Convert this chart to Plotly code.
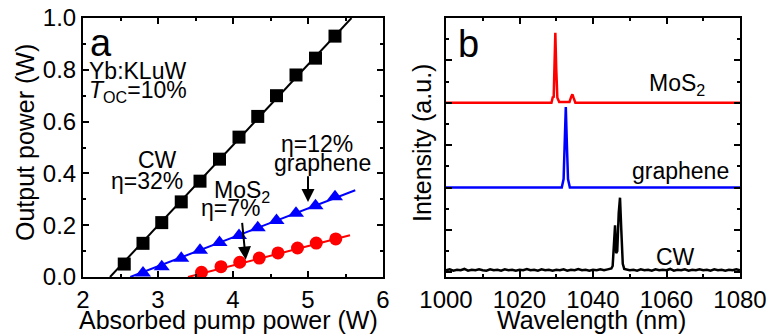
import plotly.graph_objects as go

# ---------------- Panel a data ----------------
cw_pump = [2.55, 2.80, 3.05, 3.31, 3.56, 3.82, 4.08, 4.33, 4.58, 4.84, 5.10, 5.36]
cw_out = [0.05, 0.13, 0.21, 0.29, 0.37, 0.455, 0.54, 0.62, 0.70, 0.78, 0.845, 0.93]
gr_pump = [2.80, 3.05, 3.31, 3.56, 3.82, 4.08, 4.33, 4.58, 4.84, 5.10, 5.36]
gr_out = [0.015, 0.04, 0.072, 0.103, 0.133, 0.16, 0.19, 0.218, 0.246, 0.275, 0.31]
mos_pump = [3.58, 3.84, 4.09, 4.35, 4.60, 4.86, 5.11, 5.37]
mos_out = [0.018, 0.04, 0.057, 0.073, 0.093, 0.112, 0.131, 0.147]

cw_fit_x = [2.36, 5.58]
cw_fit_y = [0.0, 1.0]
gr_fit_x = [2.63, 5.63]
gr_fit_y = [0.0, 0.335]
mos_fit_x = [3.40, 5.56]
mos_fit_y = [0.0, 0.161]

# ---------------- Panel b data ----------------
mos_wl = [1000, 1028.7, 1029.1, 1029.3, 1029.5, 1029.75, 1030.0, 1030.3, 1030.8,
          1033.6, 1034.1, 1034.4, 1034.7, 1035.2, 1080]
mos_int = [4.0, 4.0, 4.15, 4.12, 4.8, 5.65, 4.8, 4.12, 4.02,
           4.02, 4.15, 4.2, 4.12, 4.0, 4.0]

gr_wl = [1000, 1031.5, 1032.0, 1032.3, 1032.6, 1032.9, 1033.2, 1033.7, 1080]
gr_int = [2.0, 2.0, 2.2, 3.0, 3.9, 3.0, 2.2, 2.0, 2.0]

cw_wl = [1000, 1001, 1002, 1003, 1004, 1005, 1006, 1007, 1008, 1009, 1010, 1011, 1012,
         1013, 1014, 1015, 1016, 1017, 1018, 1019, 1020, 1021, 1022, 1023, 1024, 1025,
         1026, 1027, 1028, 1029, 1030, 1031, 1032, 1033, 1034, 1035, 1036, 1037, 1038,
         1039, 1040, 1041, 1042, 1043, 1044, 1045, 1045.35, 1045.7, 1046.0, 1046.3,
         1046.6, 1047.0, 1047.35, 1047.7, 1048.1, 1048.5, 1049, 1050, 1051, 1052, 1053,
         1054, 1055, 1056, 1057, 1058, 1059, 1060, 1061, 1062, 1063, 1064, 1065, 1066,
         1067, 1068, 1069, 1070, 1071, 1072, 1073, 1074, 1075, 1076, 1077, 1078, 1079, 1080]
cw_int = [0.05, 0.07, 0.04, 0.06, 0.05, 0.08, 0.04, 0.06, 0.05, 0.07, 0.05, 0.04, 0.07,
          0.05, 0.06, 0.04, 0.07, 0.05, 0.06, 0.04, 0.06, 0.05, 0.08, 0.05, 0.06, 0.04,
          0.07, 0.05, 0.06, 0.04, 0.06, 0.05, 0.07, 0.04, 0.06, 0.05, 0.08, 0.05, 0.06,
          0.04, 0.06, 0.05, 0.07, 0.05, 0.07, 0.09, 0.15, 0.8, 1.11, 0.45,
          0.5, 1.4, 1.76, 1.0, 0.2, 0.08, 0.07, 0.05, 0.06, 0.04, 0.07,
          0.05, 0.06, 0.04, 0.07, 0.05, 0.06, 0.05, 0.08, 0.04, 0.06, 0.05, 0.07, 0.04,
          0.06, 0.05, 0.07, 0.05, 0.06, 0.04, 0.07, 0.05, 0.06, 0.04, 0.06, 0.05, 0.07, 0.05]

FONT = "Liberation Sans, Arial, sans-serif"

fig = go.Figure()

# fit lines
fig.add_trace(go.Scatter(x=cw_fit_x, y=cw_fit_y, mode="lines",
                         line=dict(color="black", width=2), xaxis="x", yaxis="y"))
fig.add_trace(go.Scatter(x=gr_fit_x, y=gr_fit_y, mode="lines",
                         line=dict(color="#0000ff", width=2), xaxis="x", yaxis="y"))
fig.add_trace(go.Scatter(x=mos_fit_x, y=mos_fit_y, mode="lines",
                         line=dict(color="#ff0000", width=2), xaxis="x", yaxis="y"))
# markers
fig.add_trace(go.Scatter(x=cw_pump, y=cw_out, mode="markers",
                         marker=dict(symbol="square", size=13, color="black"),
                         xaxis="x", yaxis="y"))
fig.add_trace(go.Scatter(x=gr_pump, y=gr_out, mode="markers",
                         marker=dict(symbol="triangle-up", size=14, color="#0000ff"),
                         xaxis="x", yaxis="y"))
fig.add_trace(go.Scatter(x=mos_pump, y=mos_out, mode="markers",
                         marker=dict(symbol="circle", size=13, color="#ff0000"),
                         xaxis="x", yaxis="y"))

# spectra
fig.add_trace(go.Scatter(x=mos_wl, y=mos_int, mode="lines",
                         line=dict(color="#ff0000", width=2.5), xaxis="x2", yaxis="y2"))
fig.add_trace(go.Scatter(x=gr_wl, y=gr_int, mode="lines",
                         line=dict(color="#0000ff", width=2.5), xaxis="x2", yaxis="y2"))
fig.add_trace(go.Scatter(x=cw_wl, y=cw_int, mode="lines",
                         line=dict(color="black", width=2.5), xaxis="x2", yaxis="y2"))

W, H = 768, 335
ax_common = dict(showline=True, linewidth=2, linecolor="black", mirror="ticks",
                 ticks="inside", ticklen=6, tickwidth=2, tickcolor="black",
                 showgrid=False, zeroline=False, automargin=False,
                 tickfont=dict(family=FONT, size=24, color="black"))

left_dom = [83 / W, 383 / W]
right_dom = [446 / W, 740 / W]
ydom = [1 - 277 / H, 1 - 18 / H]

fig.update_layout(
    width=W, height=H,
    margin=dict(l=0, r=0, t=0, b=0, pad=0, autoexpand=False),
    paper_bgcolor="white", plot_bgcolor="white",
    showlegend=False,
    font=dict(family=FONT, color="black"),
    xaxis=dict(domain=left_dom, range=[2, 6], dtick=1, anchor="y",
               minor=dict(dtick=0.5, ticks="inside", ticklen=3, tickwidth=1.5,
                          tickcolor="black"),
               **ax_common),
    yaxis=dict(domain=ydom, range=[0, 1], dtick=0.2, tickformat=".1f", anchor="x",
               minor=dict(dtick=0.1, ticks="inside", ticklen=3, tickwidth=1.5,
                          tickcolor="black"),
               **ax_common),
    xaxis2=dict(domain=right_dom, range=[1000, 1080], dtick=20, anchor="y2",
                minor=dict(dtick=10, ticks="inside", ticklen=3, tickwidth=1.5,
                           tickcolor="black"),
                **ax_common),
    yaxis2=dict(domain=ydom, range=[-0.11, 6.0], dtick=1, anchor="x2",
                showticklabels=False,
                minor=dict(dtick=0.5, ticks="inside", ticklen=3, tickwidth=1.5,
                           tickcolor="black"),
                **ax_common),
)

def txt(x, y, s, size=23, xref="x", yref="y", xanchor="center", yanchor="middle", angle=0):
    fig.add_annotation(x=x, y=y, xref=xref, yref=yref, text=s, showarrow=False,
                       xanchor=xanchor, yanchor=yanchor, textangle=angle,
                       font=dict(family=FONT, size=size, color="black"))

# axis titles
txt(25 / W, 1 - 143 / H, "Output power (W)", size=25, xref="paper", yref="paper", angle=-90)
txt(228 / W, 1 - 320 / H, "Absorbed pump power (W)", size=25, xref="paper", yref="paper")
txt(422 / W, 1 - 143 / H, "Intensity (a.u.)", size=25, xref="paper", yref="paper", angle=-90)
txt(591 / W, 1 - 320 / H, "Wavelength (nm)", size=25, xref="paper", yref="paper")

# panel a texts
txt(2.06, 0.905, "a", size=38, xanchor="left")
txt(2.05, 0.795, "Yb:KLuW", size=23, xanchor="left")
txt(2.05, 0.715, "<i>T</i><sub>OC</sub>=10%", size=23, xanchor="left")
txt(2.99, 0.453, "CW", size=23)
txt(2.85, 0.372, "η=32%", size=23)
txt(5.12, 0.515, "η=12%", size=23)
txt(5.19, 0.441, "graphene", size=23)
txt(3.72, 0.33, "MoS<sub>2</sub>", size=23, xanchor="left")
txt(3.55, 0.267, "η=7%", size=23, xanchor="left")

# arrows
fig.add_annotation(x=5.0, y=0.29, ax=5.0, ay=0.395, xref="x", yref="y", axref="x", ayref="y",
                   text="", showarrow=True, arrowhead=2, arrowsize=1.3, arrowwidth=2,
                   arrowcolor="black")
fig.add_annotation(x=4.17, y=0.067, ax=4.12, ay=0.215, xref="x", yref="y", axref="x", ayref="y",
                   text="", showarrow=True, arrowhead=2, arrowsize=1.3, arrowwidth=2,
                   arrowcolor="black")

# panel b texts
txt(1002.7, 5.38, "b", size=38, xref="x2", yref="y2", xanchor="left")
txt(1071, 4.42, "MoS<sub>2</sub>", size=23, xref="x2", yref="y2", xanchor="right")
txt(1077.6, 2.4, "graphene", size=23, xref="x2", yref="y2", xanchor="right")
txt(1068.3, 0.37, "CW", size=23, xref="x2", yref="y2", xanchor="right")

fig.write_html("out.html", config={"displayModeBar": False},
               post_script="document.body.style.margin='0px';document.body.style.padding='0px';")
